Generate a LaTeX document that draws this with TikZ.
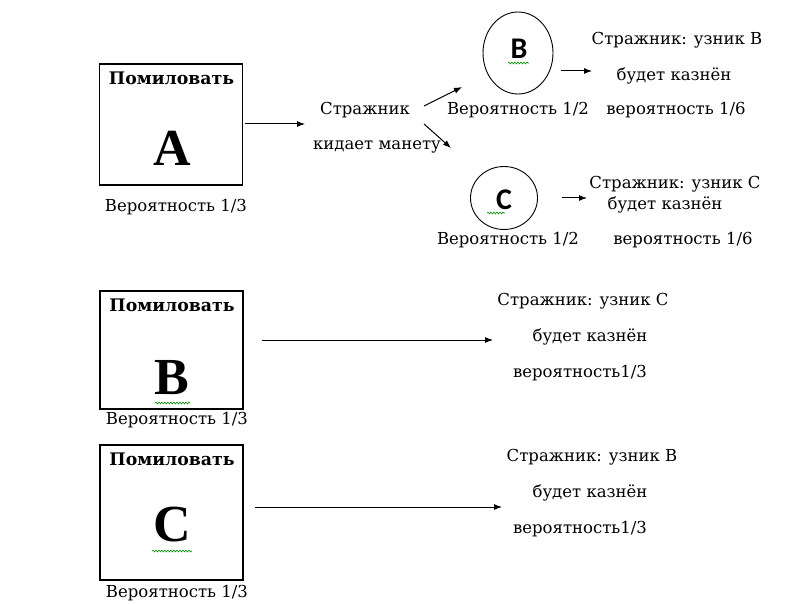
\documentclass[tikz,border=0pt]{standalone}
\usepackage{fontspec}
\setmainfont{DejaVu Serif}
\newfontfamily\letterfont{Liberation Serif}
\newfontfamily\circfont{Carlito}
\usetikzlibrary{arrows.meta,shapes.geometric,decorations.pathmorphing}
\tikzset{
  txt/.style={inner sep=0pt, font=\fontsize{16.5}{20}\selectfont},
  head/.style={inner sep=0pt, font=\fontsize{17.3}{20}\selectfont\bfseries},
  bigletter/.style={inner sep=0pt, font=\fontsize{52}{60}\selectfont\letterfont\bfseries},
  circletter/.style={inner sep=0pt, font=\fontsize{30}{36}\selectfont\circfont\bfseries},
  pardon/.style={draw, line width=1.3pt, minimum width=143pt, minimum height=#1, inner sep=0pt},
  coin/.style={draw, ellipse, line width=0.9pt, minimum width=#1, inner sep=0pt},
  arr/.style={-{Latex[length=8pt,width=6pt]}, line width=1pt},
  spell/.style={draw=green!55!black, line width=0.6pt,
    decorate, decoration={snake, amplitude=0.9pt, segment length=3pt}}
}
\begin{document}
\begin{tikzpicture}[x=1pt,y=-1pt]
\useasboundingbox (0,0) rectangle (800,604);
% pardon A
\node[pardon=121pt] (boxA) at (171,124.5) {};
\node[head] (headA) at (171.5,78) {Помиловать};
\node[bigletter] (letA) at (172,148) {A};
\node[txt] (probA) at (176,207) {Вероятность 1/3};
\node[txt] (guard1) at (365,110) {Стражник};
\node[txt] (guard2) at (377,147) {кидает манету};
\coordinate (aS) at (245,124);
\coordinate (aE) at (305,124);
\draw[arr] (aS) -- (aE);
\coordinate (upS) at (424,106);
\coordinate (upE) at (462,87);
\coordinate (dnS) at (424,124);
\coordinate (dnE) at (451,148);
\draw[arr] (upS) -- (upE);
\draw[arr] (dnS) -- (dnE);
% coin: B
\node[coin=70pt, minimum height=82pt] (circB) at (518,53) {};
\node[circletter] (letB) at (519,49) {B};
\draw[spell] (508,63) -- (529,63);
\node[txt] (probB) at (518,110) {Вероятность 1/2};
\coordinate (bS) at (561,71);
\coordinate (bE) at (592,71);
\draw[arr] (bS) -- (bE);
\node[txt] (resB1) at (677,40) {Стражник: узник B};
\node[txt] (resB2) at (674,76) {будет казнён};
\node[txt] (resB3) at (676,110) {вероятность 1/6};
% coin: C
\node[coin=67pt, minimum height=63pt] (circC) at (504,198) {};
\node[circletter] (letC) at (504,200) {C};
\draw[spell] (487,213) -- (505,213);
\node[txt] (probC) at (508,240) {Вероятность 1/2};
\coordinate (cS) at (562,198);
\coordinate (cE) at (587,198);
\draw[arr] (cS) -- (cE);
\node[txt] (resC1) at (675,184) {Стражник: узник C};
\node[txt] (resC2) at (665,205) {будет казнён};
\node[txt] (resC3) at (683,240) {вероятность 1/6};
% pardon B
\node[pardon=118pt] (boxB) at (171.5,350) {};
\node[head] (headB) at (172,305) {Помиловать};
\node[bigletter] (letBB) at (172,378) {B};
\draw[spell] (155,403) -- (190,403);
\node[txt] (probBB) at (177,420) {Вероятность 1/3};
\coordinate (bbS) at (262,340);
\coordinate (bbE) at (493,340);
\draw[arr] (bbS) -- (bbE);
\node[txt] (resBB1) at (583,301) {Стражник: узник C};
\node[txt] (resBB2) at (590,337) {будет казнён};
\node[txt] (resBB3) at (580,373) {вероятность1/3};
% pardon C
\node[pardon=135pt] (boxC) at (171.5,512.5) {};
\node[head] (headC) at (172,459) {Помиловать};
\node[bigletter] (letCC) at (172,525) {C};
\draw[spell] (152,551) -- (192,551);
\node[txt] (probCC) at (177,593) {Вероятность 1/3};
\coordinate (ccS) at (255,507);
\coordinate (ccE) at (502,507);
\draw[arr] (ccS) -- (ccE);
\node[txt] (resCC1) at (592,457) {Стражник: узник B};
\node[txt] (resCC2) at (590,493) {будет казнён};
\node[txt] (resCC3) at (580,529) {вероятность1/3};
\end{tikzpicture}
\end{document}
